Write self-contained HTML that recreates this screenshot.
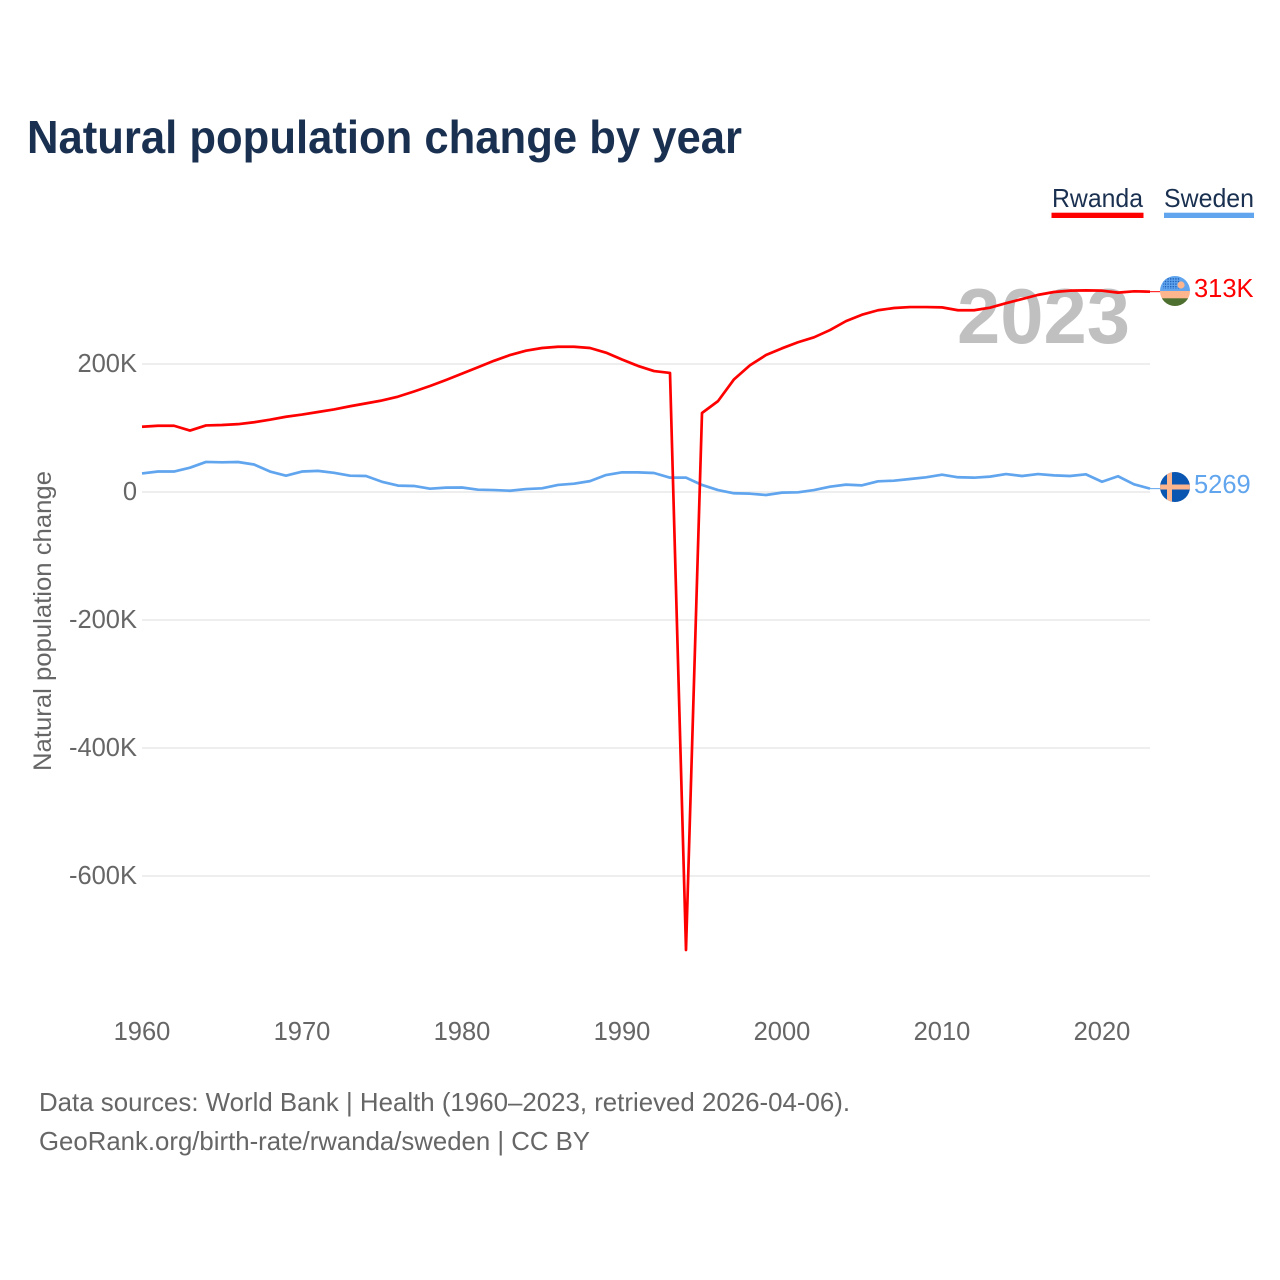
<!DOCTYPE html>
<html lang="en">
<head>
<meta charset="utf-8">
<title>Natural population change by year</title>
<style>
  html, body { margin: 0; padding: 0; background: #fff; }
  svg { display: block; font-family: "Liberation Sans", sans-serif; }
</style>
</head>
<body>
<svg id="chart" xmlns="http://www.w3.org/2000/svg" width="1280" height="1280" viewBox="0 0 1280 1280">
  <defs>
    <clipPath id="clip-rwanda"><circle cx="1175" cy="291" r="15"></circle></clipPath>
    <clipPath id="clip-sweden"><circle cx="1175" cy="487" r="15"></circle></clipPath>
    <pattern id="dots" width="2.6" height="2.6" patternUnits="userSpaceOnUse"><rect width="1.4" height="1.4" fill="#1f5fb8"></rect></pattern>
  </defs>

  <rect width="1280" height="1280" fill="#ffffff"></rect>

  <text x="27" y="153" font-size="46" font-weight="700" fill="#1a3050" textLength="715" lengthAdjust="spacingAndGlyphs">Natural population change by year</text>

  <g>
    <g>
      <text x="1052" y="207" font-size="26" fill="#1a3050" textLength="91" lengthAdjust="spacingAndGlyphs">Rwanda</text>
      <rect x="1051.5" y="212.7" width="92" height="5.3" fill="#ff0000"></rect>
    </g>
    <g>
      <text x="1164" y="207" font-size="26" fill="#1a3050" textLength="90" lengthAdjust="spacingAndGlyphs">Sweden</text>
      <rect x="1164" y="212.7" width="90" height="5.3" fill="#60a5ee"></rect>
    </g>
  </g>

  <text transform="translate(51,771) rotate(-90)" x="0" y="0" font-size="25" fill="#666666" textLength="300" lengthAdjust="spacingAndGlyphs">Natural population change</text>

  <g id="grid"></g>
  <g id="y-ticks"></g>
  <g id="x-ticks"></g>

  <text x="957" y="343" font-size="78" font-weight="700" fill="#c0c0c0" textLength="173" lengthAdjust="spacingAndGlyphs">2023</text>

  <g id="series"></g>

  <g id="flag-rwanda">
    <g clip-path="url(#clip-rwanda)">
      <rect x="1160" y="276" width="30" height="15.3" fill="#60a5ee"></rect>
      <rect x="1163" y="277" width="17" height="12" fill="url(#dots)"></rect>
      <circle cx="1181" cy="285" r="3.6" fill="#fdb58e"></circle>
      <rect x="1160" y="291" width="30" height="7.5" fill="#fdb58e"></rect>
      <rect x="1160" y="298.3" width="30" height="8" fill="#4d6f2f"></rect>
    </g>
  </g>
  <g id="flag-sweden">
    <g clip-path="url(#clip-sweden)">
      <rect x="1160" y="472" width="30" height="30" fill="#0b56b0"></rect>
      <rect x="1167" y="472" width="5" height="30" fill="#fdb58e"></rect>
      <rect x="1160" y="484.5" width="30" height="5" fill="#fdb58e"></rect>
    </g>
  </g>
  <text x="1194" y="297" font-size="25.5" fill="#ff0000">313K</text>
  <text x="1194" y="493" font-size="25.5" fill="#60a5ee">5269</text>

  <text x="39" y="1111" font-size="26" fill="#666666" textLength="811" lengthAdjust="spacingAndGlyphs">Data sources: World Bank | Health (1960–2023, retrieved 2026-04-06).</text>
  <text x="39" y="1150" font-size="26" fill="#666666" textLength="551" lengthAdjust="spacingAndGlyphs">GeoRank.org/birth-rate/rwanda/sweden | CC BY</text>
</svg>

<script>
const startYear = 1960;
const rwandaValues = [102,103.5,103.5,96,104,104.7,106,109,113,117.6,121,125,129,134,138.5,143,149,157,165.6,175,185,195,205,214,220.8,225,227,227,225,217.7,207,197,189,186,-715.6,123.4,142,176,198,214,224.5,234,241.7,253,267,277,284,287.5,289,289,288.5,284,284,288,295,301.5,308,312.5,314.6,315,314.6,311.5,313.6,313];
const swedenValues = [29,32,32,38,47,46.4,46.9,43,32,25.5,32,33,30,25.5,25,16,10,9.4,5.2,6.8,7,3.6,3,2,4.6,5.8,11,13,17,26.5,30.7,30.7,29.7,22.4,22.4,11,3,-2,-2.6,-4.7,-1,-0.5,3,8.3,11.5,10.4,16.7,17.7,20.3,23,27,23,22.4,24,28,25,28,26,25,27.6,16,24.6,12,5.269];
const yTickValues = [200,0,-200,-400,-600];
const yTickLabels = ["200K","0","-200K","-400K","-600K"];
const xTickYears = [1960,1970,1980,1990,2000,2010,2020];

const SVG_NS = "http://www.w3.org/2000/svg";
function xScale(year) { return 142 + (year - 1960) * 16; }
function yScale(value) { return 492 - value * 0.64; }

const gridGroup = document.getElementById("grid");
const yTickGroup = document.getElementById("y-ticks");
const xTickGroup = document.getElementById("x-ticks");
const seriesGroup = document.getElementById("series");

yTickValues.forEach(function (value, i) {
  const line = document.createElementNS(SVG_NS, "line");
  
  
  line.setAttribute("x1", xScale(1960));
  line.setAttribute("x2", xScale(2023));
  line.setAttribute("y1", yScale(value));
  line.setAttribute("y2", yScale(value));
  line.setAttribute("stroke", "#eeeeee");
  line.setAttribute("stroke-width", "2");
  gridGroup.appendChild(line);

  const label = document.createElementNS(SVG_NS, "text");
  
  
  label.setAttribute("x", "137");
  label.setAttribute("y", yScale(value) + 8);
  label.setAttribute("text-anchor", "end");
  label.setAttribute("font-size", "25.5");
  label.setAttribute("fill", "#666666");
  label.textContent = yTickLabels[i];
  yTickGroup.appendChild(label);
});

xTickYears.forEach(function (year) {
  const label = document.createElementNS(SVG_NS, "text");
  
  
  label.setAttribute("x", xScale(year));
  label.setAttribute("y", "1040");
  label.setAttribute("text-anchor", "middle");
  label.setAttribute("font-size", "25.5");
  label.setAttribute("fill", "#666666");
  label.textContent = String(year);
  xTickGroup.appendChild(label);
});

function linePath(values) {
  return values.map(function (value, i) {
    return (i === 0 ? "M" : "L") + xScale(startYear + i).toFixed(2) + " " + yScale(value).toFixed(2);
  }).join(" ");
}

const swedenLine = document.createElementNS(SVG_NS, "path");


swedenLine.setAttribute("d", linePath(swedenValues));
swedenLine.setAttribute("fill", "none");
swedenLine.setAttribute("stroke", "#60a5ee");
swedenLine.setAttribute("stroke-width", "2.7");
swedenLine.setAttribute("stroke-linejoin", "round");
seriesGroup.appendChild(swedenLine);

const rwandaLine = document.createElementNS(SVG_NS, "path");


rwandaLine.setAttribute("d", linePath(rwandaValues));
rwandaLine.setAttribute("fill", "none");
rwandaLine.setAttribute("stroke", "#ff0000");
rwandaLine.setAttribute("stroke-width", "2.7");
rwandaLine.setAttribute("stroke-linejoin", "round");
seriesGroup.appendChild(rwandaLine);

const swedenConnector = document.createElementNS(SVG_NS, "line");


swedenConnector.setAttribute("x1", xScale(2023));
swedenConnector.setAttribute("x2", xScale(2023) + 11);
swedenConnector.setAttribute("y1", yScale(swedenValues[swedenValues.length - 1]));
swedenConnector.setAttribute("y2", yScale(swedenValues[swedenValues.length - 1]));
swedenConnector.setAttribute("stroke", "#60a5ee");
swedenConnector.setAttribute("stroke-width", "1");
seriesGroup.appendChild(swedenConnector);

const rwandaConnector = document.createElementNS(SVG_NS, "line");


rwandaConnector.setAttribute("x1", xScale(2023));
rwandaConnector.setAttribute("x2", xScale(2023) + 11);
rwandaConnector.setAttribute("y1", yScale(rwandaValues[rwandaValues.length - 1]));
rwandaConnector.setAttribute("y2", yScale(rwandaValues[rwandaValues.length - 1]));
rwandaConnector.setAttribute("stroke", "#ff0000");
rwandaConnector.setAttribute("stroke-width", "1");
seriesGroup.appendChild(rwandaConnector);
</script>
</body>
</html>
